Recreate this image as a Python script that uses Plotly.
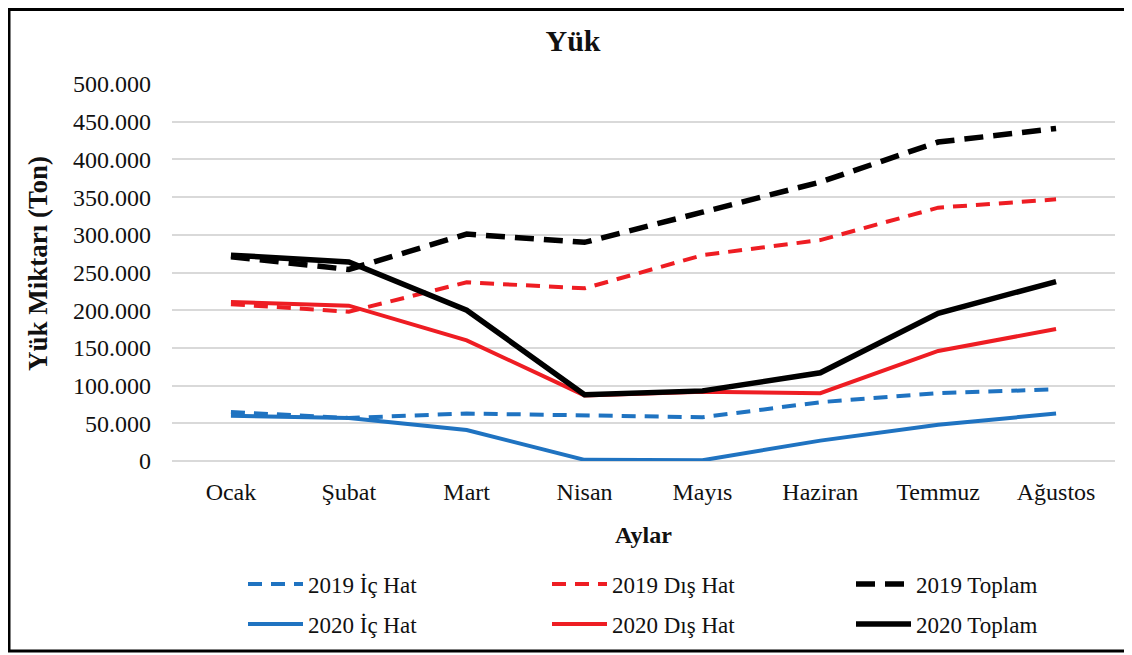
import plotly.graph_objects as go

aylar = ["Ocak", "Şubat", "Mart", "Nisan", "Mayıs", "Haziran", "Temmuz", "Ağustos"]

ic_2019 = [65000, 57000, 63000, 61000, 58000, 78000, 90000, 95000]
dis_2019 = [208000, 198000, 237000, 229000, 273000, 293000, 336000, 347000]
toplam_2019 = [271000, 254000, 301000, 290000, 330000, 370000, 423000, 441000]

ic_2020 = [60000, 57000, 41000, 1500, 1000, 27000, 48000, 63000]
dis_2020 = [211000, 206000, 160000, 87000, 92000, 90000, 146000, 175000]
toplam_2020 = [273000, 264000, 200000, 88000, 93000, 117000, 196000, 238000]

BLUE = "#1f73c1"
RED = "#ee1d23"
BLACK = "#000000"
SERIF = "Liberation Serif, Times New Roman, serif"

fig = go.Figure()

series = [
    ("2019 İç Hat", ic_2019, BLUE, 4, "14px,9px", "legend"),
    ("2019 Dış Hat", dis_2019, RED, 4, "14px,9px", "legend"),
    ("2019 Toplam", toplam_2019, BLACK, 5.5, "19px,10px", "legend"),
    ("2020 İç Hat", ic_2020, BLUE, 4, "solid", "legend2"),
    ("2020 Dış Hat", dis_2020, RED, 4, "solid", "legend2"),
    ("2020 Toplam", toplam_2020, BLACK, 5.5, "solid", "legend2"),
]
for name, vals, color, width, dash, leg in series:
    fig.add_trace(go.Scatter(
        x=aylar, y=vals, name=name, mode="lines",
        line=dict(color=color, width=width, dash=dash),
        legend=leg,
    ))

# the page body keeps an 8px margin, so the figure is 8px smaller
W, H = 1124, 647
L, R, T, B = 164, 17, 76, 194
pw, ph = W - L - R, H - T - B

def px(x):
    return (x - L) / pw

def py(y):
    return (H - B - y) / ph

legend_common = dict(
    orientation="h", xref="paper", yref="paper", xanchor="left", yanchor="middle",
    entrywidth=234, entrywidthmode="pixels", itemwidth=55,
    font=dict(family=SERIF, size=23, color="#111"),
    bgcolor="rgba(0,0,0,0)",
)

fig.update_layout(
    width=W, height=H,
    margin=dict(l=L, r=R, t=T, b=B, autoexpand=False),
    paper_bgcolor="white", plot_bgcolor="white",
    separators=",.",
    title=dict(text="<b>Yük</b>", x=565 / W, xref="container", xanchor="center",
               y=1 - 32 / H, yref="container", yanchor="middle",
               font=dict(family=SERIF, size=30, color="#111")),
    xaxis=dict(
        type="category", range=[-0.5, 7.5], showgrid=False, showline=False, zeroline=False,
        ticks="", tickfont=dict(family=SERIF, size=24, color="#111"),
        ticklabelstandoff=14,
        title=dict(text="<b>Aylar</b>", font=dict(family=SERIF, size=24, color="#111"), standoff=22),
    ),
    yaxis=dict(
        range=[0, 500000], dtick=50000, tickformat=",.0f",
        showgrid=True, gridcolor="#d9d9d9", gridwidth=1.5,
        zeroline=True, zerolinecolor="#d9d9d9", zerolinewidth=1.5,
        showline=False, ticks="",
        tickfont=dict(family=SERIF, size=24, color="#111"),
        ticklabelstandoff=20,
    ),
    annotations=[dict(text="<b>Yük Miktarı (Ton)</b>", textangle=-90,
                      xref="paper", yref="paper", x=px(30), y=py(256),
                      xanchor="center", yanchor="middle", showarrow=False,
                      font=dict(family=SERIF, size=27, color="#111"))],
    legend=dict(x=px(235), y=py(576), **legend_common),
    legend2=dict(x=px(235), y=py(616), **legend_common),
    shapes=[dict(type="rect", xref="paper", yref="paper",
                 x0=px(1), x1=px(1120), y0=py(643), y1=py(1.5),
                 line=dict(color="black", width=3), fillcolor="rgba(0,0,0,0)", layer="below")],
)

fig.write_html("out.html")
